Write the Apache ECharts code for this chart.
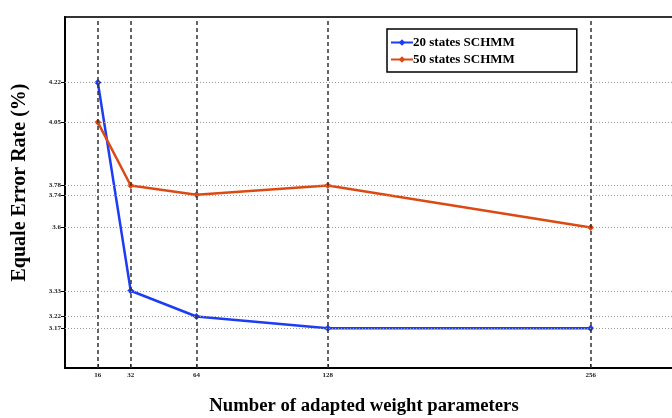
<!DOCTYPE html>
<html>
<head>
<meta charset="utf-8">
<script src="https://cdn.jsdelivr.net/npm/echarts@6/dist/echarts.min.js"></script>
<style>
  html, body { margin: 0; padding: 0; background: #fff; }
  #chart { width: 672px; height: 418px; }
</style>
</head>
<body>
<div id="chart"></div>
<script>
// Number of adapted weight parameters (x positions)
const weightParams = [16, 32, 64, 128, 256];
// Equal error rate (%) per model size
const eer20States = [4.22, 3.33, 3.22, 3.17, 3.17];
const eer50States = [4.05, 3.78, 3.74, 3.78, 3.6];
// Tick values shown on the y axis
const yTicks = [3.17, 3.22, 3.33, 3.6, 3.74, 3.78, 4.05, 4.22];
const seriesNames = ['20 states SCHMM', '50 states SCHMM'];

const FONT = 'Liberation Serif';

const toPairs = (xs, ys) => xs.map((x, i) => [x, ys[i]]);

const chart = echarts.init(document.getElementById('chart'));

chart.setOption({
  backgroundColor: '#fff',
  animation: false,
  grid: {
    left: 65, top: 17, width: 616, height: 351,
    outerBoundsMode: 'none', containLabel: false,
    show: true, borderColor: '#333', borderWidth: 2, backgroundColor: 'transparent'
  },
  legend: {
    left: 387, top: 29,
    orient: 'vertical',
    itemWidth: 22, itemHeight: 8, itemGap: 4,
    padding: [7, 62, 6, 3],
    borderColor: '#000', borderWidth: 1.5,
    backgroundColor: '#fff',
    textStyle: { fontFamily: FONT, fontWeight: 'bold', fontSize: 13, color: '#000', padding: [0, 0, 0, -5] },
    data: seriesNames
  },
  xAxis: {
    type: 'value', min: 0, max: 300,
    name: 'Number of adapted weight parameters',
    nameLocation: 'middle', nameGap: 29,
    nameTextStyle: { fontFamily: FONT, fontWeight: 'bold', fontSize: 18.7, color: '#000', padding: [0, 18, 0, 0] },
    axisLine: { show: true, lineStyle: { color: '#000', width: 2 } },
    axisTick: { show: true, customValues: weightParams, length: 4, inside: true, lineStyle: { color: '#000' } },
    axisLabel: { customValues: weightParams, fontFamily: FONT, fontWeight: 'bold', fontSize: 7, color: '#222', margin: 4 },
    splitLine: { show: false }
  },
  yAxis: {
    type: 'value', min: 3.0, max: 4.5,
    name: 'Equale Error Rate (%)',
    nameLocation: 'middle', nameGap: 35, nameRotate: 90,
    nameTextStyle: { fontFamily: FONT, fontWeight: 'bold', fontSize: 20, color: '#000', padding: [0, 0, 0, 20] },
    axisLine: { show: true, lineStyle: { color: '#000', width: 2 } },
    axisTick: { show: true, customValues: yTicks, length: 4, lineStyle: { color: '#000' } },
    axisLabel: { customValues: yTicks, fontFamily: FONT, fontWeight: 'bold', fontSize: 7, color: '#222', margin: 4,
      formatter: v => String(v) },
    splitLine: { show: false }
  },
  series: [
    {
      // reference lines at every tick value
      type: 'line', data: [], z: 1, silent: true,
      markLine: {
        silent: true, symbol: 'none', animation: false,
        label: { show: false },
        data: [
          ...yTicks.map(v => ({ yAxis: v, lineStyle: { color: '#999', width: 1, type: [1, 2] } })),
          ...weightParams.map(v => ({ xAxis: v, lineStyle: { color: '#333', width: 1.5, type: [4, 3] } }))
        ]
      }
    },
    {
      name: seriesNames[0], type: 'line', z: 3,
      data: toPairs(weightParams, eer20States),
      color: '#1d3cf6',
      lineStyle: { width: 2.5 },
      symbol: 'diamond', symbolSize: 7,
      itemStyle: { color: '#1d3cf6' }
    },
    {
      name: seriesNames[1], type: 'line', z: 3,
      data: toPairs(weightParams, eer50States),
      color: '#dc4a14',
      lineStyle: { width: 2.5 },
      symbol: 'diamond', symbolSize: 7,
      itemStyle: { color: '#dc4a14' }
    }
  ]
});
</script>
</body>
</html>
